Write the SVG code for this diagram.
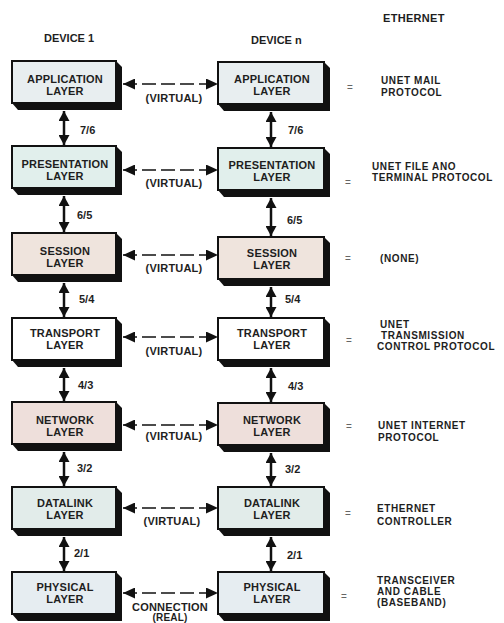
<svg xmlns="http://www.w3.org/2000/svg" width="504" height="623" viewBox="0 0 504 623">
  <style>
    text { font-family: "Liberation Sans", Arial, sans-serif; font-weight: bold; font-size: 11px; fill: #1e1e1e; }
    .lbl { text-anchor: middle; letter-spacing: 0.2px; }
    .eq { font-size: 10px; fill: #666; font-weight: normal; }
    .note { font-size: 10px; letter-spacing: 0.6px; }
    .face { stroke: #111; stroke-width: 2; }
    .slab { fill: #111; }
    .vlink { stroke: #111; stroke-width: 2.5; fill: none; marker-start: url(#vhead); marker-end: url(#vhead); }
    .hlink { stroke: #111; stroke-width: 1.6; fill: none; stroke-dasharray: 14 5; marker-start: url(#hhead); marker-end: url(#hhead); }
    .app { fill: #e8eef0; }
    .pre { fill: #e1efec; }
    .ses { fill: #efe4dd; }
    .tra { fill: #ffffff; }
    .net { fill: #eedfdb; }
    .dat { fill: #e2ecea; }
    .phy { fill: #e6edf1; }
  </style>
  <defs>
    <marker id="vhead" markerUnits="userSpaceOnUse" markerWidth="12" markerHeight="11" refX="10" refY="5.5" orient="auto-start-reverse">
      <path d="M0,0 L10,5.5 L0,11 z" fill="#111"/>
    </marker>
    <marker id="hhead" markerUnits="userSpaceOnUse" markerWidth="13" markerHeight="11" refX="12" refY="5.5" orient="auto-start-reverse">
      <path d="M0,0 L12,5.5 L0,11 z" fill="#111"/>
    </marker>
  </defs>

  <rect width="504" height="623" fill="#ffffff"/>

  <!-- column headings -->
  <text x="44" y="42">DEVICE 1</text>
  <text x="251" y="44">DEVICE n</text>
  <text x="383" y="22" style="letter-spacing:0.3px">ETHERNET</text>

  <!-- DEVICE 1 stack -->
  <g id="d1-application">
    <path class="slab" d="M116,61 L122,67 L122,110 L18,110 L12,103 Z"/>
    <rect class="face app" x="12" y="61" width="104" height="42"/>
    <text class="lbl" x="65" y="83">APPLICATION</text>
    <text class="lbl" x="65" y="95">LAYER</text>
  </g>
  <g id="d1-presentation">
    <path class="slab" d="M116,146 L122,152 L122,195 L18,195 L12,188 Z"/>
    <rect class="face pre" x="12" y="146" width="104" height="42"/>
    <text class="lbl" x="65" y="168">PRESENTATION</text>
    <text class="lbl" x="65" y="180">LAYER</text>
  </g>
  <g id="d1-session">
    <path class="slab" d="M116,233 L122,239 L122,282 L18,282 L12,275 Z"/>
    <rect class="face ses" x="12" y="233" width="104" height="42"/>
    <text class="lbl" x="65" y="255">SESSION</text>
    <text class="lbl" x="65" y="267">LAYER</text>
  </g>
  <g id="d1-transport">
    <path class="slab" d="M116,318 L122,324 L122,367 L18,367 L12,360 Z"/>
    <rect class="face tra" x="12" y="318" width="104" height="42"/>
    <text class="lbl" x="65" y="337">TRANSPORT</text>
    <text class="lbl" x="65" y="349">LAYER</text>
  </g>
  <g id="d1-network">
    <path class="slab" d="M116,402 L122,408 L122,451 L18,451 L12,444 Z"/>
    <rect class="face net" x="12" y="402" width="104" height="42"/>
    <text class="lbl" x="65" y="424">NETWORK</text>
    <text class="lbl" x="65" y="436">LAYER</text>
  </g>
  <g id="d1-datalink">
    <path class="slab" d="M116,487 L122,493 L122,536 L18,536 L12,529 Z"/>
    <rect class="face dat" x="12" y="487" width="104" height="42"/>
    <text class="lbl" x="65" y="507">DATALINK</text>
    <text class="lbl" x="65" y="519">LAYER</text>
  </g>
  <g id="d1-physical">
    <path class="slab" d="M116,572 L122,578 L122,621 L18,621 L12,614 Z"/>
    <rect class="face phy" x="12" y="572" width="104" height="42"/>
    <text class="lbl" x="65" y="591">PHYSICAL</text>
    <text class="lbl" x="65" y="603">LAYER</text>
  </g>

  <!-- DEVICE n stack -->
  <g id="dn-application">
    <path class="slab" d="M324,62 L330,68 L330,111 L224,111 L218,104 Z"/>
    <rect class="face app" x="218" y="62" width="106" height="42"/>
    <text class="lbl" x="272" y="83">APPLICATION</text>
    <text class="lbl" x="272" y="95">LAYER</text>
  </g>
  <g id="dn-presentation">
    <path class="slab" d="M324,148 L330,154 L330,197 L224,197 L218,190 Z"/>
    <rect class="face pre" x="218" y="148" width="106" height="42"/>
    <text class="lbl" x="272" y="169">PRESENTATION</text>
    <text class="lbl" x="272" y="181">LAYER</text>
  </g>
  <g id="dn-session">
    <path class="slab" d="M324,237 L330,243 L330,286 L224,286 L218,279 Z"/>
    <rect class="face ses" x="218" y="237" width="106" height="42"/>
    <text class="lbl" x="272" y="257">SESSION</text>
    <text class="lbl" x="272" y="269">LAYER</text>
  </g>
  <g id="dn-transport">
    <path class="slab" d="M324,318 L330,324 L330,367 L224,367 L218,360 Z"/>
    <rect class="face tra" x="218" y="318" width="106" height="42"/>
    <text class="lbl" x="272" y="337">TRANSPORT</text>
    <text class="lbl" x="272" y="349">LAYER</text>
  </g>
  <g id="dn-network">
    <path class="slab" d="M324,403 L330,409 L330,452 L224,452 L218,445 Z"/>
    <rect class="face net" x="218" y="403" width="106" height="42"/>
    <text class="lbl" x="272" y="424">NETWORK</text>
    <text class="lbl" x="272" y="436">LAYER</text>
  </g>
  <g id="dn-datalink">
    <path class="slab" d="M324,487 L330,493 L330,536 L224,536 L218,529 Z"/>
    <rect class="face dat" x="218" y="487" width="106" height="42"/>
    <text class="lbl" x="272" y="507">DATALINK</text>
    <text class="lbl" x="272" y="519">LAYER</text>
  </g>
  <g id="dn-physical">
    <path class="slab" d="M324,572 L330,578 L330,621 L224,621 L218,614 Z"/>
    <rect class="face phy" x="218" y="572" width="106" height="42"/>
    <text class="lbl" x="272" y="591">PHYSICAL</text>
    <text class="lbl" x="272" y="603">LAYER</text>
  </g>

  <!-- connectors -->
  <g id="connectors">
    <!-- interfaces between adjacent layers -->
    <line class="vlink" x1="64" y1="111" x2="64" y2="145"/>
    <line class="vlink" x1="64" y1="196" x2="64" y2="232"/>
    <line class="vlink" x1="64" y1="283" x2="64" y2="317"/>
    <line class="vlink" x1="64" y1="368" x2="64" y2="401"/>
    <line class="vlink" x1="64" y1="452" x2="64" y2="486"/>
    <line class="vlink" x1="64" y1="537" x2="64" y2="571"/>
    <line class="vlink" x1="271" y1="112" x2="271" y2="147"/>
    <line class="vlink" x1="271" y1="198" x2="271" y2="236"/>
    <line class="vlink" x1="271" y1="287" x2="271" y2="317"/>
    <line class="vlink" x1="271" y1="368" x2="271" y2="402"/>
    <line class="vlink" x1="271" y1="453" x2="271" y2="486"/>
    <line class="vlink" x1="271" y1="537" x2="271" y2="571"/>
    <!-- peer-to-peer links -->
    <line class="hlink" x1="123" y1="84" x2="218" y2="84"/>
    <line class="hlink" x1="123" y1="170" x2="218" y2="170"/>
    <line class="hlink" x1="123" y1="255" x2="218" y2="255"/>
    <line class="hlink" x1="123" y1="337" x2="218" y2="337"/>
    <line class="hlink" x1="123" y1="425" x2="218" y2="425"/>
    <line class="hlink" x1="123" y1="508" x2="218" y2="508"/>
    <line class="hlink" x1="123" y1="593" x2="218" y2="593"/>
  </g>

  <!-- interface numbers -->
  <text x="80" y="134">7/6</text>
  <text x="288" y="134">7/6</text>
  <text x="77" y="219">6/5</text>
  <text x="287" y="224">6/5</text>
  <text x="79" y="303">5/4</text>
  <text x="285" y="303">5/4</text>
  <text x="78" y="389">4/3</text>
  <text x="288" y="390">4/3</text>
  <text x="77" y="472">3/2</text>
  <text x="285" y="473">3/2</text>
  <text x="74" y="557">2/1</text>
  <text x="287" y="559">2/1</text>

  <!-- peer link captions -->
  <text class="lbl" x="174" y="102">(VIRTUAL)</text>
  <text class="lbl" x="174" y="187">(VIRTUAL)</text>
  <text class="lbl" x="174" y="272">(VIRTUAL)</text>
  <text class="lbl" x="174" y="355">(VIRTUAL)</text>
  <text class="lbl" x="174" y="440">(VIRTUAL)</text>
  <text class="lbl" x="172" y="525">(VIRTUAL)</text>
  <text class="lbl" x="170" y="611">CONNECTION</text>
  <text class="lbl" x="170" y="621" style="font-size:10px">(REAL)</text>

  <!-- Ethernet equivalents -->
  <text class="eq" x="347" y="91">=</text>
  <text class="eq" x="345" y="186">=</text>
  <text class="eq" x="345" y="262">=</text>
  <text class="eq" x="346" y="344">=</text>
  <text class="eq" x="346" y="430">=</text>
  <text class="eq" x="345" y="517">=</text>
  <text class="eq" x="341" y="600">=</text>

  <g class="notes">
    <text class="note" x="381" y="84">UNET MAIL</text>
    <text class="note" x="381" y="96">PROTOCOL</text>
    <text class="note" x="372" y="170">UNET FILE ANO</text>
    <text class="note" x="372" y="181">TERMINAL PROTOCOL</text>
    <text class="note" x="380" y="262">(NONE)</text>
    <text class="note" x="380" y="328">UNET</text>
    <text class="note" x="381" y="339">TRANSMISSION</text>
    <text class="note" x="377" y="350">CONTROL PROTOCOL</text>
    <text class="note" x="378" y="429">UNET INTERNET</text>
    <text class="note" x="378" y="441">PROTOCOL</text>
    <text class="note" x="377" y="512">ETHERNET</text>
    <text class="note" x="377" y="525">CONTROLLER</text>
    <text class="note" x="377" y="584">TRANSCEIVER</text>
    <text class="note" x="377" y="595">AND CABLE</text>
    <text class="note" x="377" y="606">(BASEBAND)</text>
  </g>
</svg>
